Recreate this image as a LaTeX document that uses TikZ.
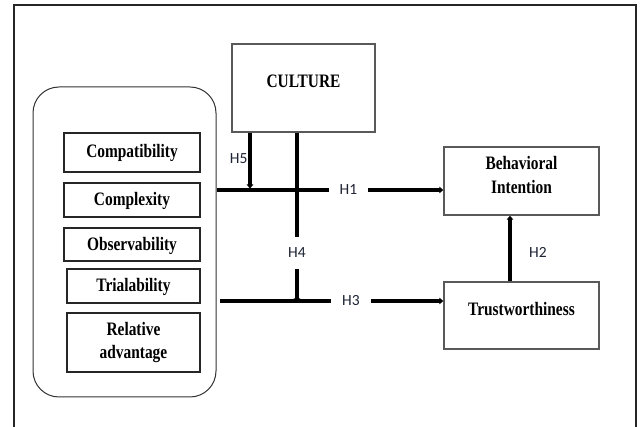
\documentclass[tikz,border=0pt]{standalone}
\usepackage{fontspec}
\setmainfont{Liberation Serif}
\newfontfamily\boxfont{Liberation Serif}[FakeStretch=0.81]
\newfontfamily\labfont{Carlito}
\usetikzlibrary{arrows.meta}
\definecolor{labcol}{RGB}{30,36,52}
\newcommand\rtxt[2]{\raisebox{#1}[0pt][0pt]{#2}}
\tikzset{
  frame/.style={draw=black!85, line width=2pt},
  group/.style={draw=black!80, line width=1pt, rounded corners=26pt, minimum width=183pt, minimum height=310pt, inner sep=0pt},
  fbox/.style={draw=black!85, line width=1.1pt, inner sep=0pt,
    font=\boxfont\bfseries\fontsize{19}{23}\selectfont},
  cbox/.style={draw=black!65, line width=1.4pt, inner sep=0pt,
    font=\boxfont\bfseries\fontsize{19}{23}\selectfont},
  lab/.style={font=\labfont\fontsize{15.5}{18}\selectfont, inner xsep=11pt, inner ysep=11pt, text=labcol},
  conn/.style={line width=3.2pt, black},
  arr/.style={line width=3.2pt, black, -{Triangle[length=4pt,width=6.5pt]}},
}
\begin{document}
\begin{tikzpicture}[x=1pt,y=-1pt]
\useasboundingbox (0,0) rectangle (641,427);
\fill[white] (0,0) rectangle (641,427);
% outer frame (bottom edge outside the picture)
\draw[frame] (14,430) -- (14,5) -- (636,5) -- (636,430);

% left group
\node[group] (grp) at (124.5,242) {};
\node[fbox, minimum width=136pt, minimum height=39pt] (comp) at (132,152.5) {\rtxt{-5pt}{Compatibility}};
\node[fbox, minimum width=136pt, minimum height=34pt] (cplx) at (132,200) {\rtxt{-6pt}{Complexity}};
\node[fbox, minimum width=136pt, minimum height=33pt] (obs) at (132,244.5) {\rtxt{-6pt}{Observability}};
\node[fbox, minimum width=133pt, minimum height=34pt] (tri) at (133.5,286) {\rtxt{-6pt}{Trialability}};
\node[fbox, minimum width=133pt, minimum height=59pt] (rel) at (133.5,342.5) {\rtxt{7.2pt}{\begin{tabular}[t]{@{}c@{}}Relative\\advantage\end{tabular}}};

% culture
\node[cbox, minimum width=143pt, minimum height=88pt] (cul) at (303.5,88) {\rtxt{0pt}{CULTURE}};

% right boxes
\node[cbox, minimum width=155pt, minimum height=68pt] (bi) at (521.5,181) {\rtxt{11pt}{\begin{tabular}[t]{@{}c@{}}Behavioral\\[1pt]Intention\end{tabular}}};
\node[cbox, minimum width=155pt, minimum height=67pt] (tw) at (521.5,315.5) {\rtxt{-0.5pt}{Trustworthiness}};

% labels
\node[lab] (h1) at (348.5,190) {H1};
\node[lab] (h3) at (351,301) {H3};
\node[lab] (h4) at (297,253) {H4};
\node[lab, inner sep=1pt] (h5) at (238.7,158.5) {H5};
\node[lab, inner sep=1pt] (h2) at (538,252) {H2};

\coordinate (j5) at (250,188.5);
\coordinate (h3s) at (220,301);
\coordinate (h2x) at (510,250);

% H1
\draw[conn] (h1.west -| grp.east) -- (h1.west);
\draw[arr] (h1.east) -- (h1.east -| bi.west);
% H5
\draw[arr] (cul.south -| j5) -- (j5);
% H4
\draw[conn] (cul.south -| h4) -- (h4.north);
\draw[arr] (h4.south) -- ([yshift=-1.5pt]h4.south |- h3);
% H3
\draw[conn] (h3s) -- (h3.west);
\draw[arr] (h3.east) -- (h3.east -| tw.west);
% H2
\draw[arr] (tw.north -| h2x) -- (bi.south -| h2x);
\end{tikzpicture}
\end{document}
